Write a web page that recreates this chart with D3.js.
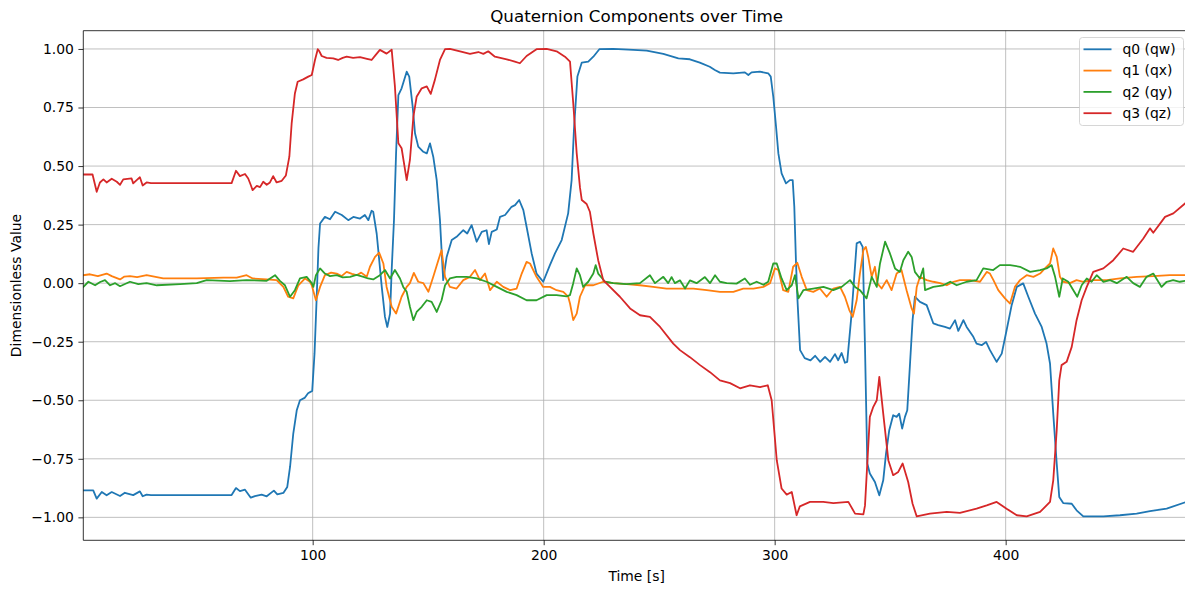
<!DOCTYPE html>
<html>
<head>
<meta charset="utf-8">
<script src="https://cdn.jsdelivr.net/npm/d3@7"></script>
<style>
  html, body { margin: 0; padding: 0; background: #fff; }
  svg { display: block; font-family: "DejaVu Sans", sans-serif; }
</style>
</head>
<body>
<svg id="chart" width="1185" height="590"></svg>
<script>
// ---- data (time [s], value) ----
const seriesNames = ["q0 (qw)", "q1 (qx)", "q2 (qy)", "q3 (qz)"];
const seriesColors = ["#1f77b4", "#ff7f0e", "#2ca02c", "#d62728"];
const xTicks = [100, 200, 300, 400];
const yTicks = [-1.0, -0.75, -0.5, -0.25, 0.0, 0.25, 0.5, 0.75, 1.0];

const q0Data = [[0.7,-0.885],[5,-0.885],[6.5,-0.92],[8.7,-0.892],[10.8,-0.906],[13,-0.892],[16.6,-0.909],[18.7,-0.895],[22.3,-0.905],[25.2,-0.889],[26.4,-0.91],[28.1,-0.903],[30,-0.905],[64.9,-0.905],[66.8,-0.875],[68.5,-0.888],[70.7,-0.882],[73.2,-0.916],[75,-0.909],[77.9,-0.903],[80.1,-0.91],[83.2,-0.886],[84.7,-0.902],[87.3,-0.896],[89,-0.87],[90.2,-0.785],[91.6,-0.642],[93.1,-0.543],[94.5,-0.5],[96.5,-0.49],[98,-0.47],[99.8,-0.46],[100.8,-0.3],[101.7,-0.07],[102.5,0.15],[103.2,0.255],[105.3,0.283],[107.5,0.273],[109.7,0.305],[112.6,0.291],[115.4,0.269],[117.6,0.283],[120.5,0.276],[122.6,0.291],[124.1,0.269],[125.5,0.309],[126.2,0.305],[127.7,0.212],[128.4,0.141],[129.9,-0.016],[131.3,-0.144],[132.3,-0.187],[133.5,-0.13],[134.2,0.056],[135.2,0.27],[136.1,0.554],[137.1,0.803],[138.5,0.832],[140.7,0.903],[141.8,0.882],[143.3,0.753],[144.3,0.64],[145.7,0.583],[147.9,0.561],[149.4,0.554],[150.8,0.597],[152.2,0.54],[153.7,0.44],[155.1,0.269],[156.5,0.013],[158,0.112],[160.2,0.184],[162.3,0.198],[165.2,0.226],[166.9,0.212],[168.8,0.248],[171,0.177],[173.2,0.219],[175.3,0.226],[176.3,0.167],[177.5,0.219],[179.7,0.229],[181.1,0.283],[183.3,0.291],[186.1,0.326],[187.6,0.333],[189.4,0.355],[191.2,0.312],[192.6,0.241],[194.8,0.127],[196.9,0.041],[199.8,0.006],[202.7,0.077],[204.9,0.127],[207.8,0.184],[210.6,0.298],[212.1,0.44],[213.1,0.654],[214.6,0.882],[216.5,0.942],[219.3,0.946],[221.5,0.967],[224.1,0.999],[230.1,1.0],[238.8,0.996],[244.6,0.993],[251.8,0.979],[258.3,0.96],[263.3,0.956],[267.6,0.942],[271.9,0.924],[274.1,0.91],[276.3,0.899],[282.1,0.896],[287.1,0.9],[288.6,0.889],[290,0.9],[293.6,0.903],[297.2,0.896],[298.3,0.882],[299.4,0.796],[300.6,0.668],[301.6,0.554],[303,0.469],[304.9,0.426],[306.6,0.44],[307.8,0.44],[308.5,0.326],[309.2,0.098],[309.8,-0.058],[311,-0.286],[313,-0.32],[315.5,-0.33],[317.5,-0.31],[319.7,-0.336],[321.8,-0.315],[324,-0.336],[326.1,-0.303],[327.5,-0.329],[329,-0.298],[330.4,-0.34],[331.4,-0.336],[333.3,-0.13],[335.5,0.17],[336.9,0.177],[338.1,0.155],[339.1,-0.272],[340.1,-0.77],[341.2,-0.813],[343.4,-0.849],[345.3,-0.906],[347,-0.842],[348.2,-0.728],[349.6,-0.628],[351.3,-0.564],[352.8,-0.571],[353.9,-0.557],[355.2,-0.621],[356.4,-0.571],[357.4,-0.543],[358.6,-0.343],[359.7,-0.158],[360.7,-0.058],[362.9,-0.08],[365.8,-0.094],[368.7,-0.172],[370.8,-0.179],[373.7,-0.187],[375.9,-0.194],[378.1,-0.158],[379.5,-0.204],[381.7,-0.158],[383.1,-0.187],[386,-0.229],[387.4,-0.258],[389.6,-0.265],[391.5,-0.251],[393.2,-0.286],[396.1,-0.336],[398.3,-0.301],[400.4,-0.201],[402.6,-0.094],[404.8,-0.016],[407.6,-0.001],[409.8,-0.058],[412.7,-0.13],[415.6,-0.187],[417.7,-0.258],[419.2,-0.343],[420.6,-0.557],[422.1,-0.77],[423.2,-0.913],[424.9,-0.939],[428.6,-0.942],[430.7,-0.97],[433.6,-0.996],[442.3,-0.996],[449.5,-0.991],[456.7,-0.984],[462.5,-0.973],[469.7,-0.963],[477.6,-0.936]];

const q1Data = [[0.7,0.034],[3.6,0.038],[7,0.03],[10.8,0.041],[13,0.03],[16.6,0.016],[18.5,0.028],[20.9,0.03],[24,0.026],[28.1,0.034],[35.3,0.02],[49.8,0.02],[61.3,0.024],[67.1,0.024],[71.4,0.034],[74,0.02],[80.1,0.016],[84.4,0.013],[87.3,-0.016],[89.4,-0.058],[91.6,-0.065],[93.8,-0.009],[96.7,0.02],[98.8,0.006],[99.6,-0.009],[101.4,-0.073],[103.2,-0.016],[105.3,0.034],[108,0.045],[110.4,0.041],[112.5,0.03],[114.7,0.048],[117,0.04],[119,0.034],[121,0.045],[123.4,0.027],[124.8,0.07],[127,0.112],[128.8,0.13],[130.6,0.084],[132,-0.016],[134.2,-0.101],[136.1,-0.13],[138.5,-0.058],[140.7,-0.016],[142.1,0],[143.8,0.044],[145.7,0.006],[147.9,0],[150.1,-0.037],[152.2,0.027],[154.4,0.098],[155.8,0.141],[157.3,0.027],[159.4,-0.016],[162.3,-0.023],[165.2,0.013],[168.1,0.027],[170.3,0.056],[172.4,0.013],[174.6,0.041],[176.8,-0.03],[179.7,0.006],[182.5,-0.016],[185.5,-0.03],[188.3,-0.023],[190.5,0.041],[192.6,0.091],[194.1,0.084],[196.9,0.027],[199.8,-0.016],[202.7,-0.016],[205.6,-0.03],[208.5,-0.037],[210.6,-0.058],[211.4,-0.087],[212.8,-0.158],[214.3,-0.13],[215.7,-0.058],[217.9,-0.009],[221.5,-0.009],[225.8,0.006],[230.1,0],[235.9,-0.004],[241.7,-0.009],[247.4,-0.016],[253.2,-0.023],[259,-0.023],[264.8,-0.023],[270.6,-0.03],[276.3,-0.037],[282.1,-0.037],[286.4,-0.023],[290.8,-0.023],[295.1,-0.016],[298,0],[300.1,0.063],[301.6,0.056],[303.7,-0.03],[305.9,-0.037],[308,0.07],[309.8,0.087],[311.7,0.027],[313.9,-0.03],[316.7,-0.037],[319.6,-0.023],[322.5,-0.058],[325.4,-0.023],[328.3,-0.016],[330.4,-0.058],[332.3,-0.115],[333.8,-0.144],[335.5,-0.073],[336.9,0.041],[338.4,0.141],[339.5,0.155],[340.5,0.112],[342,0.027],[343.4,0.07],[344.4,0],[346.3,-0.023],[348.5,0.013],[350.6,-0.03],[352.8,0.041],[354.9,0.056],[357.1,-0.03],[359.3,-0.108],[360.3,-0.13],[361.5,-0.016],[362.9,0.027],[365.8,0.013],[368.7,0.006],[371.6,0],[374.5,-0.009],[377.4,0.006],[380.2,0.013],[384.6,0.013],[388.9,0.006],[391.8,0.048],[393.2,0.041],[394.7,0.013],[396.8,-0.03],[399.7,-0.065],[401.9,-0.087],[404,-0.016],[406.2,0.013],[409.1,0.034],[412,0.027],[414.9,0.041],[417,0.063],[419.2,0.084],[420.6,0.148],[422.1,0.112],[423.5,0.027],[424.9,0.006],[427.8,0],[430.7,0.013],[433.6,0.006],[437.9,0.013],[443.7,0.013],[449.5,0.02],[456.7,0.027],[463.9,0.03],[471.1,0.034],[477.6,0.034]];

const q2Data = [[0.7,-0.016],[2.9,0.006],[5.8,-0.009],[8,0.005],[10.1,0.013],[12.3,-0.009],[14.5,0.0],[16.6,-0.013],[20.9,0.006],[24.5,-0.004],[28.1,0],[32.5,-0.009],[42.6,-0.004],[49.8,0],[54.1,0.013],[64.2,0.009],[71.4,0.013],[80.1,0.01],[83.7,0.034],[85.8,0.01],[88,-0.009],[90.2,-0.058],[92.3,-0.03],[94.5,0.02],[97.4,0.027],[99.6,0],[100.3,-0.016],[101.4,0.034],[103.2,0.063],[105.3,0.041],[107.5,0.03],[110.4,0.034],[113,0.025],[116.2,0.027],[119,0.035],[122,0.027],[124,0.02],[126.2,0.016],[129.1,0.034],[131.3,0.056],[133.5,0.02],[135.6,0.056],[137.8,0.02],[139.2,-0.016],[140.7,-0.037],[142.1,-0.101],[143.6,-0.158],[145,-0.123],[147.2,-0.101],[149.4,-0.073],[151.5,-0.08],[153.7,-0.123],[155.8,-0.073],[157.3,-0.009],[159.4,0.02],[162.3,0.027],[166.7,0.027],[171,0.02],[175.3,0.006],[179.7,-0.016],[184,-0.037],[188.3,-0.051],[192.6,-0.073],[196.9,-0.073],[201.3,-0.051],[205.6,-0.051],[209.9,-0.056],[211.4,-0.051],[212.8,0],[214.3,0.063],[215.7,0.034],[217.1,-0.016],[219.3,0.006],[221.5,0.041],[222.5,0.077],[223.6,0.041],[226.6,0.006],[230.1,0],[235.9,-0.004],[241.7,0],[246,0.034],[248.2,0],[251.8,0.027],[253.9,0],[255.4,0.026],[256.8,0],[259,0.012],[261.2,-0.023],[263.3,0.012],[266.2,0],[269.8,0.026],[272,0],[274.2,0.034],[276.3,0.006],[279.2,0],[283.5,-0.002],[287.1,0.02],[289.3,-0.007],[292.2,0.006],[295.1,-0.007],[297.2,0.006],[299.4,0.084],[300.9,0.084],[303,0.02],[305.2,-0.03],[307.4,-0.009],[308.8,0.034],[310.3,-0.065],[312.4,-0.03],[316.7,-0.023],[321.1,-0.016],[325.4,-0.03],[329,-0.016],[332.6,0.013],[334.8,-0.016],[336.9,-0.03],[339.8,-0.065],[342,0.027],[344.2,-0.016],[345.6,0.084],[347.8,0.177],[349.9,0.127],[352.1,0.063],[354.2,0.048],[355.7,0.098],[357.8,0.134],[359.3,0.112],[360.7,0.048],[362.9,0.02],[364.3,0.063],[365.1,-0.03],[368.7,-0.016],[373,-0.009],[376,0.006],[378.8,-0.009],[383.1,0.006],[387.4,0.013],[390.3,0.063],[394.6,0.056],[397.5,0.077],[401.9,0.077],[406.2,0.07],[410.6,0.048],[414.9,0.056],[417.7,0.063],[419.9,0.077],[421.4,0.027],[423.2,-0.058],[424.7,0.02],[427.1,0.006],[429.3,-0.03],[431,-0.058],[432.9,-0.009],[435.1,0.02],[437.2,0.006],[439.4,0.034],[442.3,0.006],[445.2,0.013],[448.1,0],[452.4,0.027],[455.2,0],[458.1,-0.016],[461,0.027],[463.9,0.041],[467.5,-0.016],[469.7,0.006],[472.5,0.013],[475.4,0.006],[477.6,0.01]];

const q3Data = [[0.7,0.464],[4.7,0.464],[6.5,0.39],[7.9,0.43],[9.4,0.443],[10.8,0.43],[13,0.446],[15.2,0.433],[16.6,0.42],[18,0.443],[21.6,0.447],[22.3,0.426],[23.8,0.44],[25.2,0.452],[26.4,0.417],[28.1,0.43],[30,0.427],[64.9,0.427],[66.8,0.48],[68.5,0.457],[70.7,0.466],[72.1,0.447],[73.2,0.419],[74,0.397],[75.8,0.415],[77.2,0.41],[78.6,0.433],[80.1,0.42],[81.5,0.43],[82.9,0.457],[84.4,0.43],[86.6,0.437],[88.4,0.46],[89.9,0.54],[90.9,0.682],[92.3,0.81],[93.5,0.86],[95.9,0.87],[98.1,0.882],[99.6,0.889],[101,0.953],[102.2,0.999],[102.9,0.99],[103.9,0.97],[106,0.962],[108.9,0.96],[111,0.953],[113,0.962],[114.7,0.967],[117.5,0.962],[120.5,0.965],[123.5,0.958],[125.5,0.953],[127.3,0.975],[129.1,0.996],[132,0.98],[134.2,0.997],[135.6,0.84],[137.1,0.597],[138.5,0.576],[140.7,0.44],[142.1,0.526],[143.6,0.711],[145,0.796],[147.2,0.832],[149.4,0.84],[151.1,0.808],[152.9,0.868],[155.1,0.953],[157.3,0.999],[159.4,1.0],[163.8,0.99],[168.1,0.979],[171.7,0.987],[173.9,0.979],[176,0.99],[178.9,0.967],[184,0.956],[187.5,0.946],[189.7,0.939],[192.6,0.97],[196.9,0.999],[201.3,1.0],[205.6,0.99],[209.2,0.967],[211.4,0.946],[212.8,0.768],[214.3,0.554],[215.7,0.41],[216.5,0.355],[218.6,0.338],[220,0.305],[221.5,0.212],[223.6,0.098],[225.8,0.013],[228.7,-0.016],[233,-0.058],[237.4,-0.108],[241.7,-0.137],[246,-0.144],[250.4,-0.187],[256.1,-0.258],[259,-0.286],[263.3,-0.316],[267.7,-0.35],[272,-0.38],[276.3,-0.415],[280.7,-0.427],[285,-0.449],[289.3,-0.436],[293.7,-0.444],[297,-0.436],[298.7,-0.5],[300.9,-0.756],[303,-0.877],[305.2,-0.903],[307.4,-0.892],[309.5,-0.991],[310.9,-0.953],[315.3,-0.934],[321,-0.934],[325.4,-0.939],[331.9,-0.934],[334.8,-0.984],[338.4,-0.987],[339.1,-0.95],[341.2,-0.571],[342.7,-0.528],[344.2,-0.5],[345.3,-0.4],[347,-0.557],[349.2,-0.756],[351.3,-0.82],[353.5,-0.806],[355.4,-0.77],[357.8,-0.849],[359.7,-0.942],[361.5,-0.996],[367.2,-0.984],[374.5,-0.977],[380.2,-0.981],[387.4,-0.963],[391.8,-0.949],[396.1,-0.934],[400.4,-0.963],[404.8,-0.991],[409.1,-0.996],[414.9,-0.977],[419.2,-0.934],[420.6,-0.842],[422.1,-0.628],[423.2,-0.415],[424.2,-0.35],[426.4,-0.336],[428.6,-0.272],[430.7,-0.158],[432.9,-0.073],[435.1,-0.016],[437.9,0.048],[442.3,0.063],[446.6,0.098],[450.9,0.148],[455.2,0.134],[459.6,0.191],[462.5,0.234],[463.9,0.215],[469,0.283],[472.6,0.298],[477.6,0.34]];

const allSeries = [q0Data, q1Data, q2Data, q3Data];

// ---- layout ----
const plot = { left: 83.3, top: 30.7, right: 1190, bottom: 540.3 };
const svg = d3.select("#chart");

const x = d3.scaleLinear().domain([0.7, 479.8]).range([plot.left, plot.right]);
const y = d3.scaleLinear().domain([-1.098, 1.078]).range([plot.bottom, plot.top]);

svg.append("defs").append("clipPath").attr("id", "clip")
  .append("rect").attr("x", plot.left).attr("y", plot.top)
  .attr("width", plot.right - plot.left).attr("height", plot.bottom - plot.top);

// grid
const grid = svg.append("g");
grid.selectAll("line.gx").data(xTicks).join("line")
  .attr("x1", d => x(d)).attr("x2", d => x(d))
  .attr("y1", plot.top).attr("y2", plot.bottom)
  .attr("stroke", "#b0b0b0").attr("stroke-width", 0.8);
grid.selectAll("line.gy").data(yTicks).join("line")
  .attr("y1", d => y(d)).attr("y2", d => y(d))
  .attr("x1", plot.left).attr("x2", plot.right)
  .attr("stroke", "#b0b0b0").attr("stroke-width", 0.8);

// lines
const line = d3.line().x(d => x(d[0])).y(d => y(d[1]));
const lines = svg.append("g").attr("clip-path", "url(#clip)");
allSeries.forEach((s, i) => {
  lines.append("path").datum(s)
    .attr("d", line)
    .attr("fill", "none")
    .attr("stroke", seriesColors[i])
    .attr("stroke-width", 1.8)
    .attr("stroke-linejoin", "round")
    .attr("stroke-linecap", "square");
});

// axes
const fmt = d3.format(".2f");
const xAxis = d3.axisBottom(x).tickValues(xTicks).tickSize(4.9).tickPadding(4.5).tickFormat(d3.format("d"));
const yAxis = d3.axisLeft(y).tickValues(yTicks).tickSize(4.9).tickPadding(4.5).tickFormat(fmt);

const gx = svg.append("g").attr("transform", `translate(0,${plot.bottom})`).call(xAxis);
const gy = svg.append("g").attr("transform", `translate(${plot.left},0)`).call(yAxis);
[gx, gy].forEach(g => {
  g.select(".domain").remove();
  g.selectAll(".tick line").attr("stroke", "#000").attr("stroke-width", 0.8);
  g.selectAll(".tick text").attr("fill", "#000").style("font-size", "13.9px").style("font-family", "DejaVu Sans");
});

// spines
svg.append("line").attr("x1", plot.left).attr("x2", plot.left).attr("y1", plot.top).attr("y2", plot.bottom)
  .attr("stroke", "#000").attr("stroke-width", 0.8);
svg.append("line").attr("x1", plot.left).attr("x2", plot.right).attr("y1", plot.bottom).attr("y2", plot.bottom)
  .attr("stroke", "#000").attr("stroke-width", 0.8);
svg.append("line").attr("x1", plot.left).attr("x2", plot.right).attr("y1", plot.top).attr("y2", plot.top)
  .attr("stroke", "#000").attr("stroke-width", 0.8);

// titles
const cx = (plot.left + plot.right) / 2;
svg.append("text").attr("x", cx).attr("y", 22).attr("text-anchor", "middle")
  .style("font-size", "16.7px").attr("fill", "#000").text("Quaternion Components over Time");
svg.append("text").attr("x", cx).attr("y", 581).attr("text-anchor", "middle")
  .style("font-size", "13.9px").attr("fill", "#000").text("Time [s]");
svg.append("text").attr("transform", `translate(21,${(plot.top + plot.bottom) / 2}) rotate(-90)`)
  .attr("text-anchor", "middle").style("font-size", "13.9px").attr("fill", "#000").text("Dimensionless Value");

// legend
const leg = svg.append("g");
leg.append("rect").attr("x", 1079.5).attr("y", 37.5).attr("width", 104).attr("height", 88).attr("rx", 3)
  .attr("fill", "#fff").attr("fill-opacity", 0.8).attr("stroke", "#cccccc").attr("stroke-width", 0.8);
seriesNames.forEach((name, i) => {
  const yy = 49.3 + i * 21.3;
  leg.append("line").attr("x1", 1083.5).attr("x2", 1111.5).attr("y1", yy).attr("y2", yy)
    .attr("stroke", seriesColors[i]).attr("stroke-width", 1.8);
  leg.append("text").attr("x", 1122.5).attr("y", yy).attr("dy", "0.35em")
    .style("font-size", "13.9px").attr("fill", "#000").text(name);
});
</script>
</body>
</html>
